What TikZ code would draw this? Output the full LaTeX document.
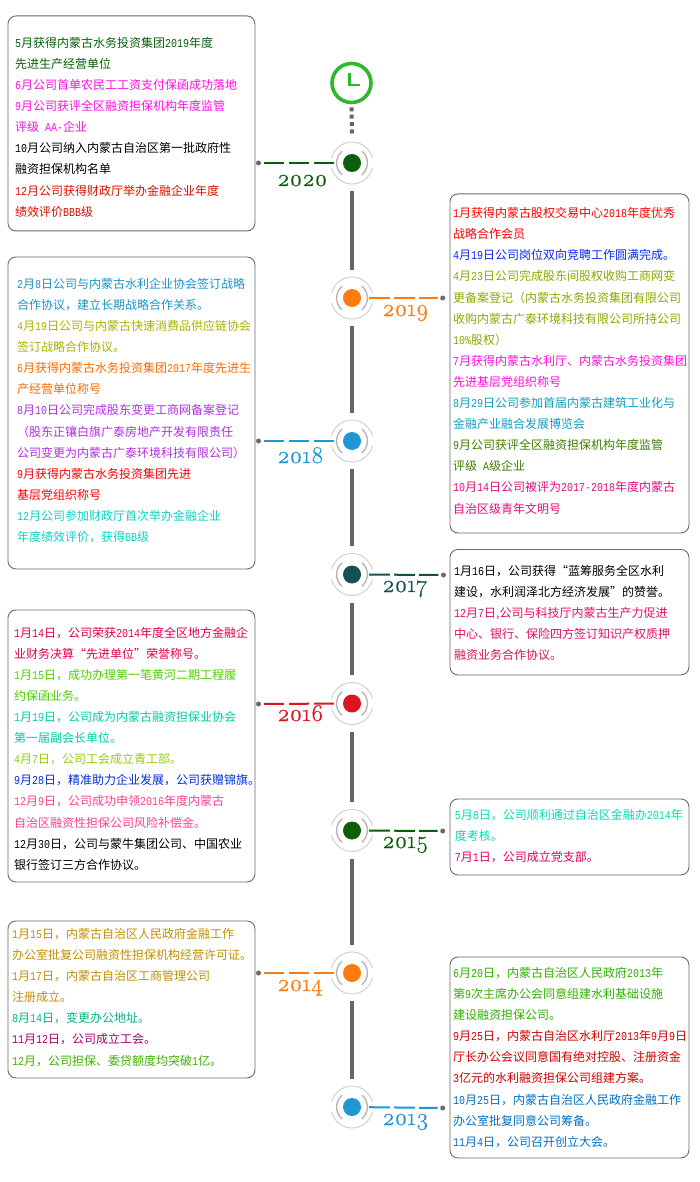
\documentclass[tikz,border=0pt]{standalone}
\usepackage{fontspec}
\setmainfont{Noto Sans CJK SC}
\newfontfamily\asciifont[FakeStretch=0.8333]{Liberation Mono}
\newfontfamily\yearfont[Numbers=OldStyle,FakeBold=0.6]{Latin Modern Roman}
\newcommand{\A}[1]{{\asciifont #1}}
\newcommand{\Ln}[2]{\textcolor[HTML]{#1}{#2}\\}
\newcommand{\rings}[1]{%
  \draw[ringout] ([shift={(14:21)}]#1.center) arc (14:166:21);
  \draw[ringout] ([shift={(194:21)}]#1.center) arc (194:346:21);
  \draw[ringin] ([shift={(-50:15.5)}]#1.center) arc (-50:50:15.5);
  \draw[ringin] ([shift={(130:15.5)}]#1.center) arc (130:230:15.5);
}
\definecolor{clockgreen}{HTML}{2DB82D}
\definecolor{cA}{HTML}{0B5F0B}
\definecolor{cB}{HTML}{FF7A0F}
\definecolor{cC}{HTML}{1F97D4}
\definecolor{cD}{HTML}{145050}
\definecolor{cE}{HTML}{DC1420}
\tikzset{
  x=1pt,y=-1pt,
  infobox/.style={draw=black!58,line width=0.9pt,rounded corners=8pt,fill=white,inner sep=0pt,anchor=north west},
  infotext/.style={anchor=north west,inner sep=0pt,align=left,font=\fontsize{12}{21.1}\selectfont},
  core/.style={circle,inner sep=0pt,minimum size=18pt},
  ringout/.style={draw=black!18,line width=1pt},
  ringin/.style={draw=black!30,line width=1.3pt},
  spine/.style={draw=black!60,line width=4pt,shorten >=19pt,shorten <=19pt},
  dotn/.style={circle,fill=black!58,inner sep=0pt,minimum size=5pt},
  leaderl/.style={line width=2pt,dash pattern=on 20pt off 5pt,shorten <=3pt,shorten >=9pt},
  leaderr/.style={line width=2pt,dash pattern=on 21pt off 4pt,shorten <=8pt,shorten >=2.5pt},
  yearlabel/.style={inner sep=0pt,anchor=base west,font=\fontsize{24}{24}\selectfont\yearfont},
}
\begin{document}
\begin{tikzpicture}
\useasboundingbox (0,0) rectangle (700,1182);
\fill[white] (0,0) rectangle (700,1182);

% boxes
\node[infobox,minimum width=247pt,minimum height=215pt] (b2020) at (7.5,15.5) {};
\node[infobox,minimum width=239pt,minimum height=339pt] (b2019) at (449.5,193.5) {};
\node[infobox,minimum width=247pt,minimum height=312pt] (b2018) at (7.5,256.5) {};
\node[infobox,minimum width=239pt,minimum height=125.5pt] (b2017) at (449.5,549) {};
\node[infobox,minimum width=247pt,minimum height=272pt] (b2016) at (7.5,609.5) {};
\node[infobox,minimum width=239pt,minimum height=76pt] (b2015) at (449.5,798.5) {};
\node[infobox,minimum width=247pt,minimum height=157pt] (b2014) at (7.5,920.5) {};
\node[infobox,minimum width=239pt,minimum height=201pt] (b2013) at (449.5,956.5) {};

% texts
\node[infotext] (t2020) at (15,37) {%
\Ln{0B5F0B}{\A{5}月获得内蒙古水务投资集团\A{2019}年度}
\Ln{0B5F0B}{先进生产经营单位}
\Ln{FF10E0}{\A{6}月公司首单农民工工资支付保函成功落地}
\Ln{FF10E0}{\A{9}月公司获评全区融资担保机构年度监管}
\Ln{FF10E0}{评级\A{ AA-}企业}
\Ln{000000}{\A{10}月公司纳入内蒙古自治区第一批政府性}
\Ln{000000}{融资担保机构名单}
\Ln{D81000}{\A{12}月公司获得财政厅举办金融企业年度}
\Ln{D81000}{绩效评价\A{BBB}级}};

\node[infotext] (t2019) at (453,207.3) {%
\Ln{FF0000}{\A{1}月获得内蒙古股权交易中心\A{2018}年度优秀}
\Ln{FF0000}{战略合作会员}
\Ln{0A28F0}{\A{4}月\A{19}日公司岗位双向竞聘工作圆满完成。}
\Ln{8FA800}{\A{4}月\A{23}日公司完成股东间股权收购工商网变}
\Ln{8FA800}{更备案登记（内蒙古水务投资集团有限公司}
\Ln{8FA800}{收购内蒙古广泰环境科技有限公司所持公司}
\Ln{8FA800}{\A{10\%}股权）}
\Ln{FF10DD}{\A{7}月获得内蒙古水利厅、内蒙古水务投资集团}
\Ln{FF10DD}{先进基层党组织称号}
\Ln{10A0C0}{\A{8}月\A{29}日公司参加首届内蒙古建筑工业化与}
\Ln{10A0C0}{金融产业融合发展博览会}
\Ln{3F7F00}{\A{9}月公司获评全区融资担保机构年度监管}
\Ln{3F7F00}{评级\A{ A}级企业}
\Ln{E01080}{\A{10}月\A{14}日公司被评为\A{2017-2018}年度内蒙古}
\Ln{E01080}{自治区级青年文明号}};

\node[infotext] (t2018) at (17,278) {%
\Ln{1C94C8}{\A{2}月\A{8}日公司与内蒙古水利企业协会签订战略}
\Ln{1C94C8}{合作协议，建立长期战略合作关系。}
\Ln{A8B400}{\A{4}月\A{19}日公司与内蒙古快速消费品供应链协会}
\Ln{A8B400}{签订战略合作协议。}
\Ln{FF6A00}{\A{6}月获得内蒙古水务投资集团\A{2017}年度先进生}
\Ln{FF6A00}{产经营单位称号}
\Ln{B030E0}{\A{8}月\A{10}日公司完成股东变更工商网备案登记}
\Ln{B030E0}{（股东正镶白旗广泰房地产开发有限责任}
\Ln{B030E0}{公司变更为内蒙古广泰环境科技有限公司）}
\Ln{FF0000}{\A{9}月获得内蒙古水务投资集团先进}
\Ln{FF0000}{基层党组织称号}
\Ln{10D0C8}{\A{12}月公司参加财政厅首次举办金融企业}
\Ln{10D0C8}{年度绩效评价，获得\A{BB}级}};

\node[infotext] (t2017) at (454,564.7) {%
\Ln{000000}{\A{1}月\A{16}日，公司获得“蓝筹服务全区水利}
\Ln{000000}{建设，水利润泽北方经济发展”的赞誉。}
\Ln{E01060}{\A{12}月\A{7}日,公司与科技厅内蒙古生产力促进}
\Ln{E01060}{中心、银行、保险四方签订知识产权质押}
\Ln{E01060}{融资业务合作协议。}};

\node[infotext] (t2016) at (14,626.7) {%
\Ln{E0004F}{\A{1}月\A{14}日，公司荣获\A{2014}年度全区地方金融企}
\Ln{E0004F}{业财务决算“先进单位”荣誉称号。}
\Ln{50D000}{\A{1}月\A{15}日，成功办理第一笔黄河二期工程履}
\Ln{50D000}{约保函业务。}
\Ln{00D0A0}{\A{1}月\A{19}日，公司成为内蒙古融资担保业协会}
\Ln{00D0A0}{第一届副会长单位。}
\Ln{90D010}{\A{4}月\A{7}日，公司工会成立青工部。}
\Ln{0030E0}{\A{9}月\A{28}日，精准助力企业发展，公司获赠锦旗。}
\Ln{FF4090}{\A{12}月\A{9}日，公司成功申领\A{2016}年度内蒙古}
\Ln{FF4090}{自治区融资性担保公司风险补偿金。}
\Ln{000000}{\A{12}月\A{30}日，公司与蒙牛集团公司、中国农业}
\Ln{000000}{银行签订三方合作协议。}};

\node[infotext] (t2015) at (454.7,809.3) {%
\Ln{00E0B0}{\A{5}月\A{8}日，公司顺利通过自治区金融办\A{2014}年}
\Ln{00E0B0}{度考核。}
\Ln{E0005F}{\A{7}月\A{1}日，公司成立党支部。}};

\node[infotext] (t2014) at (12,928) {%
\Ln{BF9000}{\A{1}月\A{15}日，内蒙古自治区人民政府金融工作}
\Ln{BF9000}{办公室批复公司融资性担保机构经营许可证。}
\Ln{BF9000}{\A{1}月\A{17}日，内蒙古自治区工商管理公司}
\Ln{BF9000}{注册成立。}
\Ln{00B880}{\A{8}月\A{14}日，变更办公地址。}
\Ln{A80070}{\A{11}月\A{12}日，公司成立工会。}
\Ln{40B000}{\A{12}月，公司担保、委贷额度均突破\A{1}亿。}};

\node[infotext] (t2013) at (453,967) {%
\Ln{30B000}{\A{6}月\A{20}日，内蒙古自治区人民政府\A{2013}年}
\Ln{30B000}{第\A{9}次主席办公会同意组建水利基础设施}
\Ln{30B000}{建设融资担保公司。}
\Ln{D00000}{\A{9}月\A{25}日，内蒙古自治区水利厅\A{2013}年\A{9}月\A{9}日}
\Ln{D00000}{厅长办公会议同意国有绝对控股、注册资金}
\Ln{D00000}{\A{3}亿元的水利融资担保公司组建方案。}
\Ln{0070C0}{\A{10}月\A{25}日，内蒙古自治区人民政府金融工作}
\Ln{0070C0}{办公室批复同意公司筹备。}
\Ln{0070C0}{\A{11}月\A{4}日，公司召开创立大会。}};

% clock
\node[circle,draw=clockgreen,line width=3.6pt,minimum size=39pt,inner sep=0pt] (clock) at (351.5,83) {};
\draw[clockgreen,line width=2.8pt,line join=miter] ([shift={(-2,-10)}]clock.center) -- ([shift={(-2,2)}]clock.center) -- ([shift={(8,2)}]clock.center);

% year cores
\node[core,fill=cA] (n2020) at (352,163) {};
\node[core,fill=cB] (n2019) at (352,298) {};
\node[core,fill=cC] (n2018) at (352,441) {};
\node[core,fill=cD] (n2017) at (352,574.5) {};
\node[core,fill=cE] (n2016) at (352,703.5) {};
\node[core,fill=cA] (n2015) at (352,830.5) {};
\node[core,fill=cB] (n2014) at (352,973) {};
\node[core,fill=cC] (n2013) at (352,1107) {};
\rings{n2020}\rings{n2019}\rings{n2018}\rings{n2017}\rings{n2016}\rings{n2015}\rings{n2014}\rings{n2013}

% spine
\draw[black!60,line width=4pt,dash pattern=on 4pt off 3.4pt,shorten <=3pt,shorten >=18pt] (clock) -- (n2020);
\draw[spine] (n2020) -- (n2019);
\draw[spine] (n2019) -- (n2018);
\draw[spine] (n2018) -- (n2017);
\draw[spine] (n2017) -- (n2016);
\draw[spine] (n2016) -- (n2015);
\draw[spine] (n2015) -- (n2014);
\draw[spine] (n2014) -- (n2013);

% leader end dots
\node[dotn] (d2020) at (258.5,163) {};
\node[dotn] (d2019) at (442.7,298) {};
\node[dotn] (d2018) at (258.5,441) {};
\node[dotn] (d2017) at (443.5,575) {};
\node[dotn] (d2016) at (258.5,704) {};
\node[dotn] (d2015) at (442.7,831) {};
\node[dotn] (d2014) at (258.5,973) {};
\node[dotn] (d2013) at (442.7,1108) {};

\draw[leaderl,cA] (d2020) -- (n2020);
\draw[leaderr,cB] (n2019) -- (d2019);
\draw[leaderl,cC] (d2018) -- (n2018);
\draw[leaderr,cD] (n2017) -- (d2017);
\draw[leaderl,cE] (d2016) -- (n2016);
\draw[leaderr,cA] (n2015) -- (d2015);
\draw[leaderl,cB] (d2014) -- (n2014);
\draw[leaderr,cC] (n2013) -- (d2013);

% years
\node[yearlabel,text=cA] (y2020) at (277,186) {2020};
\node[yearlabel,text=cB] (y2019) at (382,316) {2019};
\node[yearlabel,text=cC] (y2018) at (277,463) {2018};
\node[yearlabel,text=cD] (y2017) at (382,592) {2017};
\node[yearlabel,text=cE] (y2016) at (277,721) {2016};
\node[yearlabel,text=cA] (y2015) at (382,848) {2015};
\node[yearlabel,text=cB] (y2014) at (277,991) {2014};
\node[yearlabel,text=cC] (y2013) at (382,1125) {2013};
\end{tikzpicture}
\end{document}
